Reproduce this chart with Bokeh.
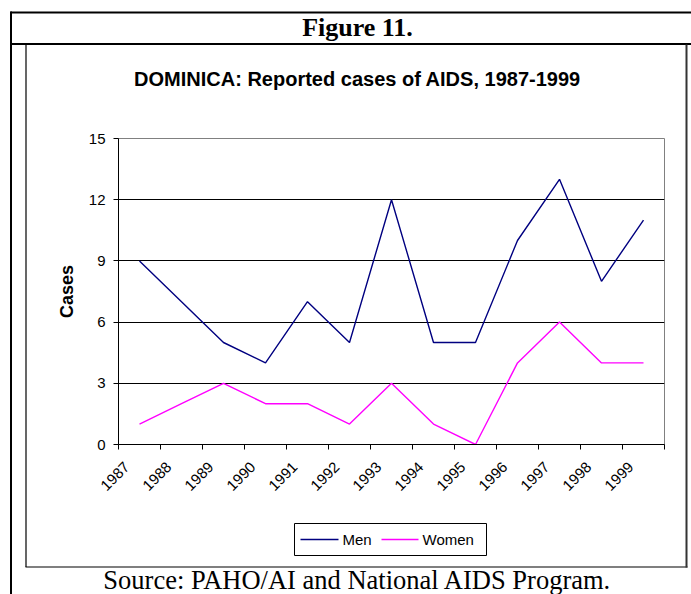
import math
from bokeh.plotting import figure
from bokeh.models import (Range1d, FixedTicker, CustomJSTickFormatter, LinearAxis, Grid)
from bokeh.core.properties import value
from bokeh.embed import file_html
from bokeh.resources import INLINE

# ---------------- data ----------------
years = ["1987", "1988", "1989", "1990", "1991", "1992", "1993",
         "1994", "1995", "1996", "1997", "1998", "1999"]
men = [9, 7, 5, 4, 7, 5, 12, 5, 5, 10, 13, 8, 11]
women = [1, 2, 3, 2, 2, 1, 3, 1, 0, 4, 6, 4, 4]
y_ticks = [0, 3, 6, 9, 12, 15]
grid_ticks = [3, 6, 9, 12]

fig_title = "Figure 11."
chart_title = "DOMINICA: Reported cases of AIDS, 1987-1999"
y_label = "Cases"
source_note = "Source: PAHO/AI and National AIDS Program."
series_names = ["Men", "Women"]
series_colors = ["#000080", "#FF00FF"]

SANS = "Liberation Sans"
SERIF = "Liberation Serif"

W, H = 691, 594
FL, FR, FT, FB = 118, 664, 138, 444   # frame edges in page pixels
p = figure(width=W, height=H, x_range=Range1d(0, len(years)), y_range=Range1d(0, 15),
           output_backend="svg", toolbar_location=None,
           x_axis_type=None, y_axis_type=None,
           min_border_left=FL, min_border_right=W - FR,
           min_border_top=FT, min_border_bottom=H - FB)
p.background_fill_color = "white"
p.border_fill_color = "white"
p.outline_line_color = "#808080"
p.outline_line_width = 1

# page-pixel coordinate system for decoration
p.extra_x_ranges = {"px": Range1d(FL, FR)}
p.extra_y_ranges = {"py": Range1d(FB, FT)}

# grid
p.add_layout(Grid(dimension=1, ticker=FixedTicker(ticks=grid_ticks),
                  grid_line_color="black", grid_line_width=1))

# data lines
xs = [i + 0.5 for i in range(len(years))]
r_men = p.line(xs, men, line_color=series_colors[0], line_width=1.4)
r_women = p.line(xs, women, line_color=series_colors[1], line_width=1.4)

# axes
LABEL_SHIFT = 0.3
xaxis = LinearAxis(
    ticker=FixedTicker(ticks=[i + 0.5 - LABEL_SHIFT for i in range(len(years))],
                       minor_ticks=list(range(len(years) + 1))),
    formatter=CustomJSTickFormatter(args=dict(years=years, shift=0.5 - LABEL_SHIFT),
                                    code="return years[Math.round(tick - shift)];"),
)
xaxis.axis_line_color = "black"
xaxis.major_tick_out = 0
xaxis.major_tick_in = 0
xaxis.minor_tick_out = 5
xaxis.minor_tick_in = 0
xaxis.minor_tick_line_color = "black"
xaxis.major_label_orientation = math.pi / 4
xaxis.major_label_standoff = 15
xaxis.major_label_text_font = SANS
xaxis.major_label_text_font_size = "15px"
xaxis.major_label_text_color = "black"
p.add_layout(xaxis, "below")

yaxis = LinearAxis(ticker=FixedTicker(ticks=y_ticks))
yaxis.axis_line_color = "black"
yaxis.major_tick_out = 5
yaxis.major_tick_in = 0
yaxis.minor_tick_out = 0
yaxis.minor_tick_in = 0
yaxis.major_tick_line_color = "black"
yaxis.major_label_standoff = 8
yaxis.major_label_text_font = SANS
yaxis.major_label_text_font_size = "15px"
yaxis.major_label_text_color = "black"
p.add_layout(yaxis, "left")

# ---------------- decoration (page coordinates) ----------------
deco = dict(x_range_name="px", y_range_name="py", level="overlay")
# outer table
p.segment(x0=[10.5, 10], y0=[11, 12], x1=[10.5, 691], y1=[594, 12],
          line_color="black", line_width=2, **deco)
p.segment(x0=[10], y0=[43.5], x1=[691], y1=[43.5], line_color="black", line_width=2, **deco)
# chart box
p.segment(x0=[25.5, 25], y0=[44, 566.5], x1=[25.5, 687], y1=[566.5, 566.5],
          line_color="black", line_width=1.2, **deco)
p.segment(x0=[686], y0=[44], x1=[686], y1=[567], line_color="#333333", line_width=2, **deco)

# legend box (drawn in page coordinates)
p.quad(left=[294], right=[486], top=[523], bottom=[555], fill_color="white",
       line_color="black", line_width=1, **deco)
p.segment(x0=[300], y0=[539], x1=[338], y1=[539], line_color=series_colors[0],
          line_width=1.4, **deco)
p.segment(x0=[381], y0=[539], x1=[418], y1=[539], line_color=series_colors[1],
          line_width=1.4, **deco)
p.text(x=[342, 422], y=[539, 539], text=series_names, text_font=value(SANS),
       text_font_size="15px", text_align="left", text_baseline="middle",
       text_color="black", **deco)

# texts
p.text(x=[357], y=[27], text=[fig_title], text_font=value(SERIF), text_font_style="bold",
       text_font_size="26px", text_align="center", text_baseline="alphabetic",
       text_color="black", **deco)
p.text(x=[357], y=[78], text=[chart_title], text_font=value(SANS), text_font_style="bold",
       text_font_size="20px", text_align="center", text_baseline="alphabetic",
       text_color="black", **deco)
p.text(x=[66], y=[291], text=[y_label], angle=math.pi / 2, text_font=value(SANS),
       text_font_style="bold", text_font_size="18px", text_align="center",
       text_baseline="middle", text_color="black", **deco)
p.text(x=[357], y=[579], text=[source_note], text_font=value(SERIF),
       text_font_size="26.5px", text_align="center", text_baseline="alphabetic",
       text_color="black", **deco)

open("out.html", "w").write(file_html(p, INLINE))
